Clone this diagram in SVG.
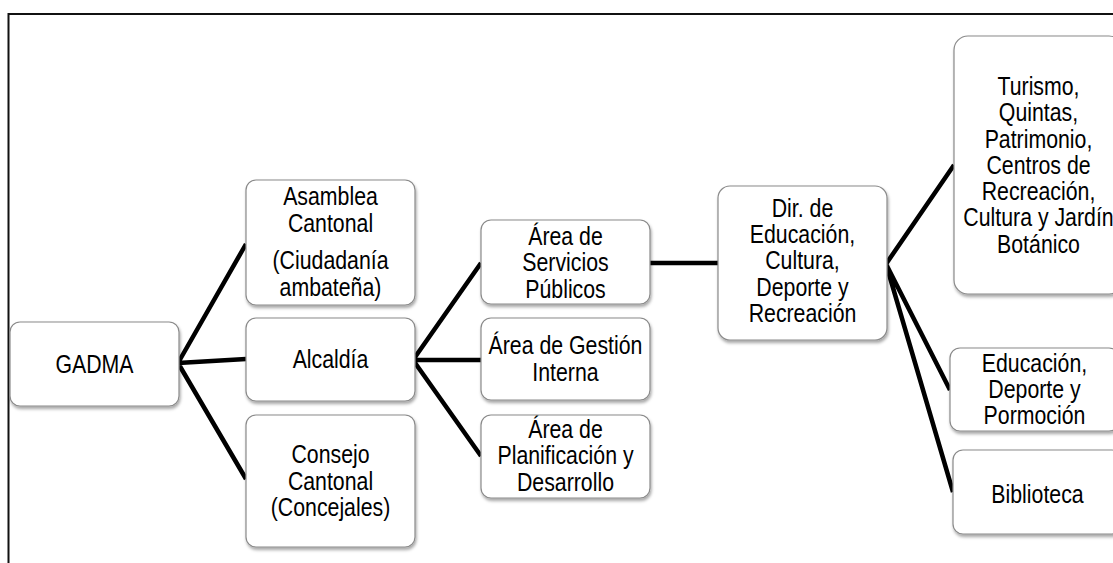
<svg xmlns="http://www.w3.org/2000/svg" width="1113" height="563" viewBox="0 0 1113 563">
  <defs>
    <filter id="sh" x="-10%" y="-10%" width="130%" height="130%">
      <feDropShadow dx="1" dy="2.5" stdDeviation="1.5" flood-color="#000" flood-opacity="0.35"/>
    </filter>
    <style>
      .box { fill: #ffffff; stroke: #8a8a8a; stroke-width: 1.2; filter: url(#sh); }
      .lbl { font-family: "Liberation Sans", Arial, sans-serif; font-size: 21.3px; fill: #000; text-anchor: middle; }
      .con { stroke: #000; stroke-width: 4.5; fill: none; stroke-linecap: butt; stroke-linejoin: miter; }
      .frame { stroke: #111; stroke-width: 2; fill: none; }
    </style>
  </defs>
  <rect x="0" y="0" width="1113" height="563" fill="#ffffff"/>
  <path class="frame" d="M8.5,563 V14 H1113"/>

  <g id="connectors">
    <path class="con" d="M178,363 L246,244 M178,363 L246,359 M178,363 L246,479"/>
    <path class="con" d="M413,360 L481,263 M413,360 L481,360 M413,360 L481,456"/>
    <path class="con" d="M650,263 L718,263"/>
    <path class="con" d="M886,264 L954,165 M886,264 L950,390 M886,264 L953,492"/>
  </g>

  <g id="gadma">
    <rect class="box" x="10" y="322" width="169" height="84" rx="10"/>
    <text class="lbl" transform="translate(94.5,373) scale(1,1.2)"><tspan x="0" y="0">GADMA</tspan></text>
  </g>
  <g id="asamblea">
    <rect class="box" x="246" y="180" width="169" height="125" rx="10"/>
    <text class="lbl" transform="translate(330.5,205) scale(1,1.2)"><tspan x="0" y="0">Asamblea</tspan><tspan x="0" y="22.2">Cantonal</tspan><tspan x="0" y="53.6">(Ciudadanía</tspan><tspan x="0" y="75.8">ambateña)</tspan></text>
  </g>
  <g id="alcaldia">
    <rect class="box" x="246" y="318" width="169" height="83" rx="10"/>
    <text class="lbl" transform="translate(330.5,367.5) scale(1,1.2)"><tspan x="0" y="0">Alcaldía</tspan></text>
  </g>
  <g id="consejo">
    <rect class="box" x="246" y="415" width="169" height="132" rx="10"/>
    <text class="lbl" transform="translate(330.5,463) scale(1,1.2)"><tspan x="0" y="0">Consejo</tspan><tspan x="0" y="22.1">Cantonal</tspan><tspan x="0" y="44.2">(Concejales)</tspan></text>
  </g>
  <g id="servicios">
    <rect class="box" x="481" y="220" width="169" height="84" rx="10"/>
    <text class="lbl" transform="translate(565.5,244.5) scale(1,1.2)"><tspan x="0" y="0">Área de</tspan><tspan x="0" y="22.1">Servicios</tspan><tspan x="0" y="44.2">Públicos</tspan></text>
  </g>
  <g id="gestion">
    <rect class="box" x="481" y="318" width="169" height="82" rx="10"/>
    <text class="lbl" transform="translate(565.5,354) scale(1,1.2)"><tspan x="0" y="0">Área de Gestión</tspan><tspan x="0" y="22.1">Interna</tspan></text>
  </g>
  <g id="planificacion">
    <rect class="box" x="481" y="415" width="169" height="83" rx="10"/>
    <text class="lbl" transform="translate(565.5,437.5) scale(1,1.2)"><tspan x="0" y="0">Área de</tspan><tspan x="0" y="22.1">Planificación y</tspan><tspan x="0" y="44.2">Desarrollo</tspan></text>
  </g>
  <g id="direccion">
    <rect class="box" x="718" y="186" width="169" height="154" rx="12"/>
    <text class="lbl" transform="translate(802.5,216.7) scale(1,1.2)"><tspan x="0" y="0">Dir. de</tspan><tspan x="0" y="21.9">Educación,</tspan><tspan x="0" y="43.8">Cultura,</tspan><tspan x="0" y="65.7">Deporte y</tspan><tspan x="0" y="87.6">Recreación</tspan></text>
  </g>
  <g id="turismo">
    <rect class="box" x="954" y="36" width="169" height="258" rx="14"/>
    <text class="lbl" transform="translate(1038.5,95) scale(1,1.2)"><tspan x="0" y="0">Turismo,</tspan><tspan x="0" y="21.9">Quintas,</tspan><tspan x="0" y="43.8">Patrimonio,</tspan><tspan x="0" y="65.7">Centros de</tspan><tspan x="0" y="87.6">Recreación,</tspan><tspan x="0" y="109.5">Cultura y Jardín</tspan><tspan x="0" y="131.4">Botánico</tspan></text>
  </g>
  <g id="educacion">
    <rect class="box" x="950" y="348" width="169" height="83" rx="10"/>
    <text class="lbl" transform="translate(1034.5,371.7) scale(1,1.2)"><tspan x="0" y="0">Educación,</tspan><tspan x="0" y="21.9">Deporte y</tspan><tspan x="0" y="43.8">Pormoción</tspan></text>
  </g>
  <g id="biblioteca">
    <rect class="box" x="953" y="450" width="169" height="84" rx="10"/>
    <text class="lbl" transform="translate(1037.5,503) scale(1,1.2)"><tspan x="0" y="0">Biblioteca</tspan></text>
  </g>
</svg>
